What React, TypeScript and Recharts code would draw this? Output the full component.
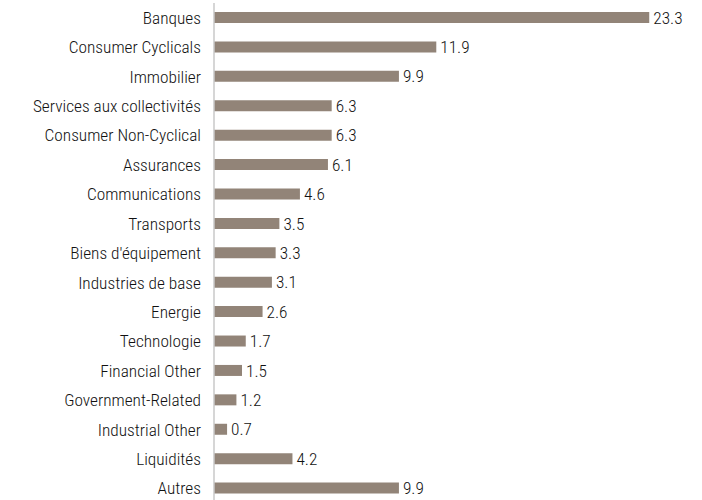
import React from 'react';
import { BarChart, Bar, XAxis, YAxis, LabelList } from 'recharts';

const categories = [
  'Banques',
  'Consumer Cyclicals',
  'Immobilier',
  'Services aux collectivités',
  'Consumer Non-Cyclical',
  'Assurances',
  'Communications',
  'Transports',
  "Biens d'équipement",
  'Industries de base',
  'Energie',
  'Technologie',
  'Financial Other',
  'Government-Related',
  'Industrial Other',
  'Liquidités',
  'Autres',
];

const weights = [23.3, 11.9, 9.9, 6.3, 6.3, 6.1, 4.6, 3.5, 3.3, 3.1, 2.6, 1.7, 1.5, 1.2, 0.7, 4.2, 9.9];

const data = categories.map((name, i) => ({ name, value: weights[i] }));

const FONT = '"Roboto Condensed", "Liberation Sans Narrow", sans-serif';

export default function App() {
  return (
    <div
      style={{
        position: 'fixed',
        top: 0,
        left: 0,
        width: 702,
        height: 500,
        overflow: 'hidden',
        background: '#fff',
      }}
    >
      <BarChart
        width={702}
        height={510}
        data={data}
        layout="vertical"
        margin={{ top: 3, right: 21, bottom: 7, left: 0 }}
      >
        <XAxis type="number" domain={[0, 25]} hide />
        <YAxis
          type="category"
          dataKey="name"
          width={214}
          axisLine={{ stroke: '#c8c8c8', strokeWidth: 1.5 }}
          tickLine={false}
          tickMargin={7}
          interval={0}
          tick={{ fill: '#111', fontSize: 17.3, fontFamily: FONT, fontWeight: 300 }}
        />
        <Bar dataKey="value" fill="#928478" barSize={11} isAnimationActive={false}>
          <LabelList
            dataKey="value"
            position="right"
            offset={4}
            fill="#111"
            fontSize={17.3}
            fontFamily={FONT}
            fontWeight={300}
          />
        </Bar>
      </BarChart>
    </div>
  );
}
